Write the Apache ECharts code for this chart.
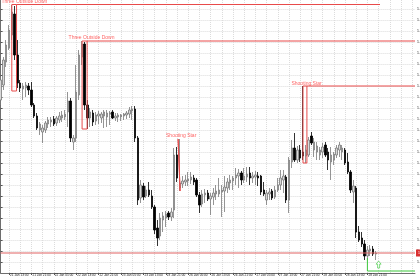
<!DOCTYPE html>
<html><head><meta charset="utf-8">
<script src="https://cdn.jsdelivr.net/npm/echarts@6/dist/echarts.min.js"></script>
<style>html,body{margin:0;padding:0;background:#fff;}#c{width:420px;height:280px;}</style>
</head><body><div id="c"></div>
<script>
// ---- time axis (hourly bars, 21 Jan 10:00 onward; trailing slots are empty chart shift)
const tradingDays = ['21 Jan','22 Jan','23 Jan','26 Jan','27 Jan','28 Jan','29 Jan'];
const firstHour = 10;
const slotCount = 149;
const xTickLabels = ['21 Jan 13:00','21 Jan 21:00','22 Jan 05:00','22 Jan 13:00','22 Jan 21:00','23 Jan 05:00','23 Jan 13:00','23 Jan 21:00','26 Jan 05:00','26 Jan 13:00','26 Jan 21:00','27 Jan 05:00','27 Jan 13:00','27 Jan 21:00','28 Jan 05:00','28 Jan 13:00','28 Jan 21:00'];
const xGridLabels = ['21 Jan 13:00','21 Jan 17:00','21 Jan 21:00','22 Jan 01:00','22 Jan 05:00','22 Jan 09:00','22 Jan 13:00','22 Jan 17:00','22 Jan 21:00','23 Jan 01:00','23 Jan 05:00','23 Jan 09:00','23 Jan 13:00','23 Jan 17:00','23 Jan 21:00','26 Jan 01:00','26 Jan 05:00','26 Jan 09:00','26 Jan 13:00','26 Jan 17:00','26 Jan 21:00','27 Jan 01:00','27 Jan 05:00','27 Jan 09:00','27 Jan 13:00','27 Jan 17:00','27 Jan 21:00','28 Jan 01:00','28 Jan 05:00','28 Jan 09:00','28 Jan 13:00','28 Jan 17:00','28 Jan 21:00','29 Jan 01:00','29 Jan 05:00','29 Jan 09:00','29 Jan 13:00'];

// ---- OHLC (price)
const opens = [1.5199,1.5214,1.5237,1.5251,1.5264,1.5285,1.5244,1.5216,1.5210,1.5211,1.5213,1.5209,1.5194,1.5183,1.5169,1.5167,1.5169,1.5175,1.5177,1.5180,1.5176,1.5179,1.5181,1.5182,1.5187,1.5198,1.5157,1.5161,1.5204,1.5242,1.5255,1.5194,1.5181,1.5186,1.5178,1.5183,1.5181,1.5183,1.5182,1.5185,1.5187,1.5181,1.5182,1.5182,1.5183,1.5184,1.5185,1.5188,1.5190,1.5161,1.5101,1.5113,1.5103,1.5109,1.5103,1.5092,1.5071,1.5063,1.5079,1.5081,1.5086,1.5082,1.5089,1.5144,1.5111,1.5115,1.5117,1.5118,1.5119,1.5121,1.5119,1.5104,1.5095,1.5104,1.5106,1.5100,1.5102,1.5105,1.5105,1.5107,1.5108,1.5111,1.5116,1.5118,1.5121,1.5123,1.5126,1.5119,1.5122,1.5126,1.5121,1.5122,1.5123,1.5123,1.5109,1.5099,1.5105,1.5108,1.5102,1.5109,1.5114,1.5119,1.5122,1.5099,1.5137,1.5151,1.5139,1.5149,1.5147,1.5143,1.5144,1.5163,1.5149,1.5147,1.5144,1.5147,1.5154,1.5147,1.5137,1.5139,1.5144,1.5149,1.5147,1.5149,1.5137,1.5127,1.5107,1.5111,1.5067,1.5061,1.5055,1.5043,1.5048,1.5050,1.5045];
const closes = [1.5219,1.5239,1.5254,1.5269,1.5287,1.5244,1.5216,1.5211,1.5213,1.5214,1.5209,1.5194,1.5183,1.5171,1.5175,1.5171,1.5176,1.5179,1.5179,1.5175,1.5181,1.5183,1.5184,1.5185,1.5198,1.5161,1.5161,1.5207,1.5244,1.5255,1.5194,1.5181,1.5187,1.5177,1.5184,1.5185,1.5185,1.5187,1.5186,1.5186,1.5181,1.5183,1.5184,1.5184,1.5185,1.5186,1.5189,1.5190,1.5161,1.5099,1.5114,1.5102,1.5109,1.5104,1.5092,1.5069,1.5061,1.5081,1.5083,1.5085,1.5082,1.5087,1.5144,1.5121,1.5116,1.5118,1.5119,1.5120,1.5122,1.5117,1.5104,1.5094,1.5105,1.5106,1.5100,1.5103,1.5106,1.5108,1.5109,1.5109,1.5112,1.5117,1.5119,1.5121,1.5124,1.5126,1.5119,1.5123,1.5125,1.5121,1.5123,1.5124,1.5121,1.5107,1.5105,1.5106,1.5107,1.5101,1.5109,1.5114,1.5121,1.5123,1.5099,1.5139,1.5151,1.5139,1.5149,1.5141,1.5143,1.5149,1.5159,1.5156,1.5157,1.5153,1.5149,1.5152,1.5144,1.5139,1.5144,1.5145,1.5151,1.5154,1.5151,1.5136,1.5127,1.5109,1.5113,1.5067,1.5059,1.5055,1.5043,1.5049,1.5050,1.5045,1.5046];
const lows = [1.5194,1.5209,1.5232,1.5249,1.5259,1.5239,1.5211,1.5207,1.5199,1.5202,1.5204,1.5192,1.5181,1.5169,1.5164,1.5156,1.5166,1.5171,1.5172,1.5173,1.5173,1.5176,1.5177,1.5179,1.5172,1.5157,1.5149,1.5157,1.5199,1.5234,1.5189,1.5170,1.5172,1.5173,1.5174,1.5175,1.5176,1.5171,1.5172,1.5174,1.5180,1.5178,1.5177,1.5178,1.5179,1.5180,1.5181,1.5179,1.5157,1.5094,1.5096,1.5099,1.5101,1.5102,1.5090,1.5065,1.5053,1.5059,1.5067,1.5072,1.5079,1.5078,1.5081,1.5117,1.5108,1.5111,1.5113,1.5113,1.5115,1.5114,1.5102,1.5086,1.5092,1.5096,1.5098,1.5084,1.5094,1.5099,1.5102,1.5082,1.5087,1.5106,1.5109,1.5109,1.5114,1.5111,1.5114,1.5116,1.5117,1.5114,1.5116,1.5114,1.5113,1.5104,1.5103,1.5094,1.5099,1.5099,1.5100,1.5107,1.5109,1.5106,1.5096,1.5086,1.5131,1.5137,1.5136,1.5137,1.5139,1.5136,1.5142,1.5154,1.5142,1.5139,1.5139,1.5141,1.5142,1.5129,1.5119,1.5134,1.5141,1.5142,1.5139,1.5134,1.5125,1.5106,1.5096,1.5061,1.5057,1.5052,1.5039,1.5039,1.5043,1.5043,1.5039];
const highs = [1.5222,1.5242,1.5259,1.5274,1.5294,1.5293,1.5259,1.5219,1.5216,1.5217,1.5216,1.5217,1.5196,1.5186,1.5177,1.5174,1.5178,1.5182,1.5182,1.5183,1.5183,1.5187,1.5188,1.5189,1.5207,1.5201,1.5164,1.5234,1.5249,1.5258,1.5257,1.5199,1.5191,1.5189,1.5187,1.5188,1.5187,1.5189,1.5189,1.5188,1.5189,1.5186,1.5186,1.5185,1.5186,1.5188,1.5192,1.5193,1.5193,1.5163,1.5119,1.5116,1.5113,1.5117,1.5109,1.5094,1.5079,1.5086,1.5087,1.5088,1.5088,1.5091,1.5151,1.5152,1.5160,1.5123,1.5124,1.5127,1.5127,1.5124,1.5121,1.5107,1.5109,1.5110,1.5109,1.5106,1.5111,1.5114,1.5121,1.5114,1.5123,1.5121,1.5124,1.5123,1.5131,1.5130,1.5128,1.5131,1.5132,1.5132,1.5127,1.5128,1.5127,1.5124,1.5117,1.5109,1.5111,1.5110,1.5113,1.5121,1.5129,1.5129,1.5124,1.5142,1.5159,1.5166,1.5153,1.5154,1.5213,1.5154,1.5162,1.5167,1.5161,1.5157,1.5152,1.5156,1.5157,1.5151,1.5152,1.5147,1.5154,1.5157,1.5154,1.5151,1.5146,1.5129,1.5119,1.5113,1.5073,1.5067,1.5059,1.5053,1.5054,1.5053,1.5048];

// ---- price axis
const priceMin = 1.5026, priceMax = 1.5301, priceStep = 0.0011;
const askPrice = 1.5046;

// ---- pattern annotations (bar index, price)
const patternBoxes = [[4, 5.7, 1.52945, 1.5208],[29.1, 30.9, 1.5258, 1.5170],[63.4, 64.1, 1.5160, 1.5108],[108, 109.4, 1.5213, 1.5136]];
const patternLevels = [[5.7, 135.5, 1.52945],[30.9, 148, 1.5258],[109.4, 148, 1.5213]];
const patternTexts = [[0.15, 1.52975, 'Three Outside Down'],[24.1, 1.52615, 'Three Outside Down'],[58.9, 1.51635, 'Shooting Star'],[103.7, 1.52155, 'Shooting Star']];
const bullSignalBox = [131, 148, 1.5041, 1.5028];
const bullArrow = [135, 1.50345];

// ---- build
const categories = [];
for (let d = 0; categories.length < slotCount; d++) {
  for (let h = (d === 0 ? firstHour : 0); h < 24 && categories.length < slotCount; h++) {
    categories.push(tradingDays[d] + ' ' + (h < 10 ? '0' : '') + h + ':00');
  }
}
const candles = opens.map((o, i) => [o, closes[i], lows[i], highs[i]]);
const RED = '#e84a4a', GREEN = '#3cc83c';
const fontFam = 'Liberation Sans, Arial, sans-serif';

function poly(name, pts, color, width) {
  return {type: 'line', name, xAxisIndex: 1, yAxisIndex: 0, z: 4, data: pts, showSymbol: false, symbol: 'none',
    silent: true, clip: false, animation: false, lineStyle: {color, width: width || 1}, emphasis: {disabled: true}};
}
const annotationSeries = [];
patternBoxes.forEach((b, i) => annotationSeries.push(poly('box' + i,
  [[b[0], b[2]], [b[1], b[2]], [b[1], b[3]], [b[0], b[3]], [b[0], b[2]]], RED)));
patternLevels.forEach((l, i) => annotationSeries.push(poly('level' + i, [[l[0], l[2]], [l[1], l[2]]], RED)));
annotationSeries.push(poly('signalBox',
  [[bullSignalBox[0], bullSignalBox[2]], [bullSignalBox[0], bullSignalBox[3]], [bullSignalBox[1], bullSignalBox[3]]], GREEN));

const chart = echarts.init(document.getElementById('c'), null, {renderer: 'canvas'});
chart.setOption({
  animation: false,
  backgroundColor: '#ffffff',
  grid: {left: 0.6, right: 5, top: -2, bottom: 7, containLabel: false, outerBoundsMode: 'none'},
  xAxis: [{
    type: 'category', data: categories, boundaryGap: false,
    axisLine: {show: true, lineStyle: {color: '#6e6e6e', width: 1}},
    axisTick: {show: true, length: 2, interval: (i, v) => xTickLabels.includes(v), lineStyle: {color: '#555'}},
    axisLabel: {show: true, interval: (i, v) => xTickLabels.includes(v), align: 'left', margin: 1, padding: [0,0,0,1],
      fontSize: 3.2, color: '#222', fontFamily: fontFam, hideOverlap: false},
    splitLine: {show: true, interval: (i, v) => xGridLabels.includes(v), lineStyle: {color: '#dcdcdc', type: 'dotted', width: 1}}
  }, {
    type: 'value', min: 0, max: slotCount - 1, show: false, position: 'top'
  }],
  yAxis: {
    type: 'value', position: 'right', min: priceMin, max: priceMax, interval: priceStep, scale: true,
    axisLine: {show: true, lineStyle: {color: '#6e6e6e', width: 1}},
    axisTick: {show: true, length: 2, lineStyle: {color: '#555'}},
    axisLabel: {show: true, margin: 2, fontSize: 3.5, color: '#222', fontFamily: fontFam,
      showMinLabel: false, showMaxLabel: false, formatter: v => v.toFixed(5)},
    splitLine: {show: true, lineStyle: {color: '#dcdcdc', type: 'dotted', width: 1}}
  },
  series: [{
    type: 'candlestick', name: 'H1', data: candles, barWidth: 2, clip: true, z: 3,
    itemStyle: {color: '#d9d9d9', borderColor: '#7a7a7a', color0: '#000000', borderColor0: '#000000', borderWidth: 0.8},
    emphasis: {disabled: true}
  }, {
    type: 'line', name: 'ask', xAxisIndex: 1, yAxisIndex: 0, z: 4,
    data: [[0, askPrice], [slotCount - 1, askPrice]], showSymbol: false, symbol: 'none', silent: true,
    lineStyle: {color: '#e06262', width: 1},
    endLabel: {show: true, distance: 1, formatter: () => askPrice.toFixed(5),
      backgroundColor: '#d93030', color: '#fff', fontSize: 3.5, padding: [1.5, 2], fontFamily: fontFam}
  }].concat(annotationSeries).concat([{
    type: 'scatter', name: 'patterns', xAxisIndex: 1, yAxisIndex: 0, z: 5,
    data: patternTexts.map(t => ({value: [t[0], t[1]], name: t[2]})),
    symbolSize: 1, itemStyle: {color: 'rgba(0,0,0,0)'}, clip: false,
    label: {show: true, position: 'right', distance: 0, formatter: '{b}', color: '#ff3c3c', fontSize: 5, fontFamily: fontFam},
    emphasis: {disabled: true}, silent: true
  }, {
    type: 'scatter', name: 'signal', xAxisIndex: 1, yAxisIndex: 0, z: 5,
    data: [bullArrow], symbol: 'path://M5,0 L10,5 L7,5 L7,11 L3,11 L3,5 L0,5 Z', symbolSize: [5, 7],
    itemStyle: {color: '#ffffff', borderColor: GREEN, borderWidth: 0.8},
    emphasis: {disabled: true}, silent: true
  }])
});
</script>
</body></html>
